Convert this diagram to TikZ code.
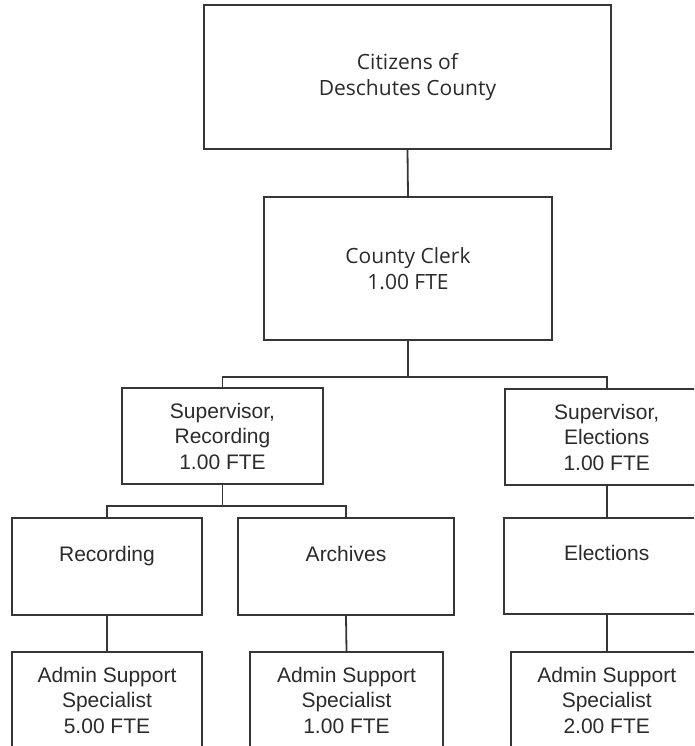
\documentclass[tikz,border=0pt]{standalone}
\usepackage{fontspec}
\setmainfont{Liberation Sans}
\newfontfamily\headfont{Open Sans}
\definecolor{inkline}{HTML}{363636}
\definecolor{inktext}{HTML}{2B2B2B}
\begin{document}
\begin{tikzpicture}[x=1pt,y=-1pt,
  orgbox/.style={draw=inkline, line width=1.8pt, fill=white, align=center,
    text=inktext, inner sep=0pt, font=\fontsize{21}{25.5}\selectfont},
  headbox/.style={orgbox, font=\headfont\fontsize{21}{25.5}\selectfont},
  link/.style={draw=inkline, line width=1.8pt}]
\useasboundingbox (0,0) rectangle (694,746);
\clip (0,0) rectangle (694,746);
\fill[white] (0,0) rectangle (694,746);

% top of the chart
\node[headbox, minimum width=407pt, minimum height=144pt] (citizens) at (407.5,77)
  {Citizens of\\Deschutes County};
\node[headbox, minimum width=288pt, minimum height=143pt] (clerk) at (408,268.5)
  {County Clerk\\1.00 FTE};

% supervisors
\node[orgbox, minimum width=201pt, minimum height=96pt] (suprec) at (222.5,436)
  {Supervisor,\\Recording\\1.00 FTE};
\node[orgbox, minimum width=203pt, minimum height=96pt] (supelec) at (606.7,437)
  {Supervisor,\\Elections\\1.00 FTE};

% divisions
\node[orgbox, minimum width=190pt, minimum height=97pt] (rec) at (107,566.5)
  {Recording\\ \mbox{}};
\node[orgbox, minimum width=216pt, minimum height=97pt] (arch) at (346,566.5)
  {Archives\\ \mbox{}};
\node[orgbox, minimum width=205pt, minimum height=96pt] (elec) at (606.7,566)
  {Elections\\ \mbox{}};

% support staff
\node[orgbox, minimum width=190pt, minimum height=96pt] (adm1) at (107,700)
  {Admin Support\\Specialist\\5.00 FTE};
\node[orgbox, minimum width=193pt, minimum height=96pt] (adm2) at (346.5,700)
  {Admin Support\\Specialist\\1.00 FTE};
\node[orgbox, minimum width=192pt, minimum height=96pt] (adm3) at (606.7,700)
  {Admin Support\\Specialist\\2.00 FTE};

% reporting lines
\coordinate (bus1) at (408,377);
\coordinate (bus2) at (222.5,506);
\draw[link] (citizens.south) -- (clerk.north);
\draw[link] (clerk.south) -- (bus1) -| (suprec.north);
\draw[link] (bus1) -| (supelec.north);
\draw[link] (suprec.south) -- (bus2) -| (rec.north);
\draw[link] (bus2) -| (arch.north);
\draw[link] (supelec.south) -- (elec.north);
\draw[link] (rec.south) -- (adm1.north);
\draw[link] (arch.south) -- (adm2.north);
\draw[link] (elec.south) -- (adm3.north);
\end{tikzpicture}
\end{document}
